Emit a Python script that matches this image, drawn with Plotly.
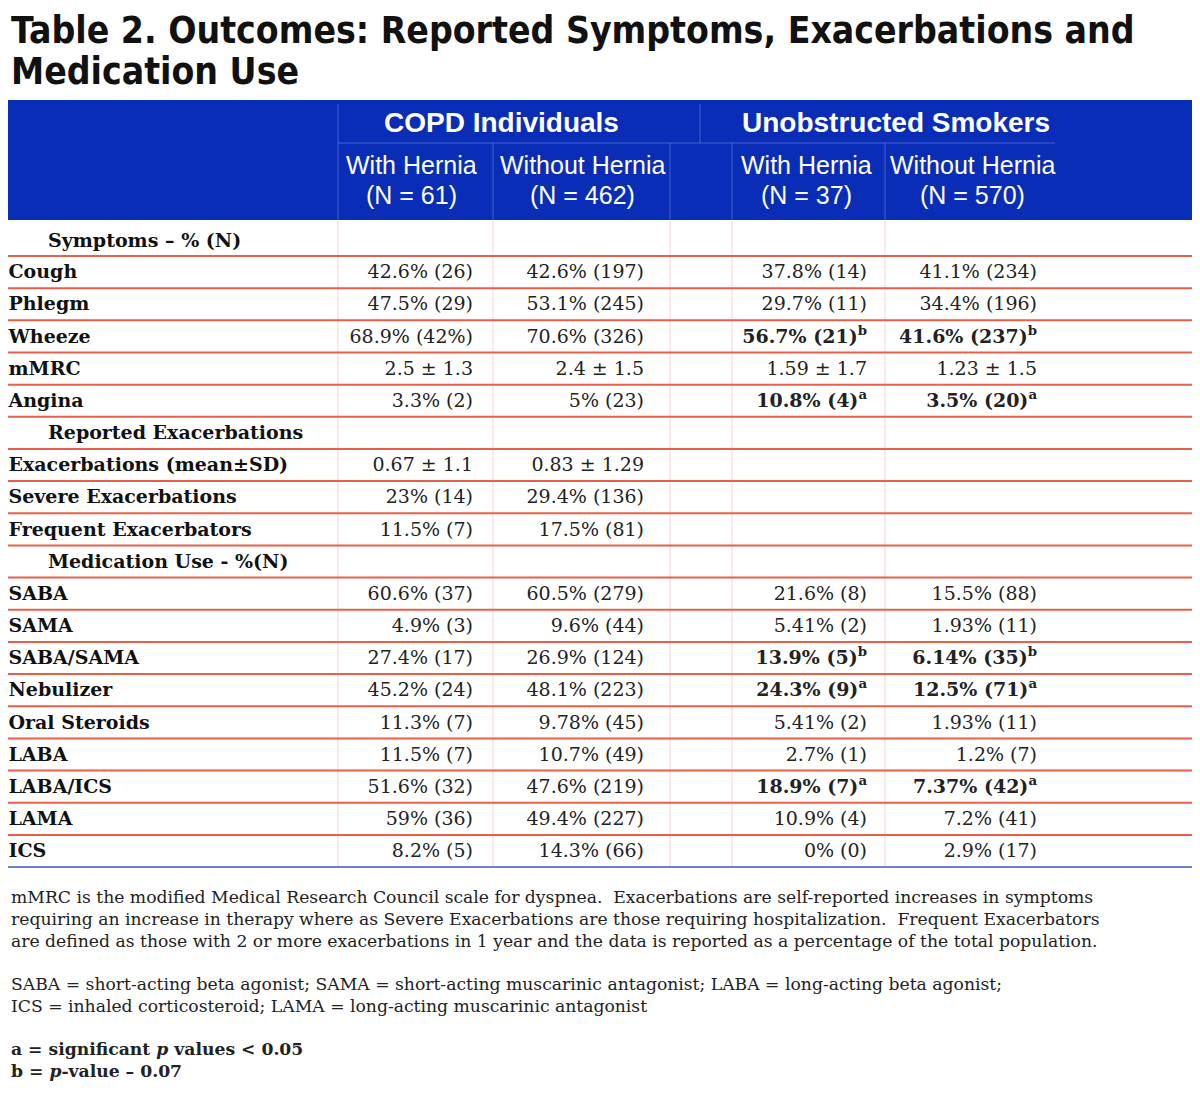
import plotly.graph_objects as go

# ---------------- data ----------------
title_lines = ["Table 2. Outcomes: Reported Symptoms, Exacerbations and", "Medication Use"]
group_headers = ["COPD Individuals", "Unobstructed Smokers"]
sub_names = ["With Hernia", "Without Hernia", "With Hernia", "Without Hernia"]
sub_counts = ["(N = 61)", "(N = 462)", "(N = 37)", "(N = 570)"]

row_labels = ["Symptoms – % (N)", "Cough", "Phlegm", "Wheeze", "mMRC", "Angina",
              "Reported Exacerbations", "Exacerbations (mean±SD)", "Severe Exacerbations",
              "Frequent Exacerbators", "Medication Use - %(N)", "SABA", "SAMA", "SABA/SAMA",
              "Nebulizer", "Oral Steroids", "LABA", "LABA/ICS", "LAMA", "ICS"]
section_rows = ["Symptoms – % (N)", "Reported Exacerbations", "Medication Use - %(N)"]

copd_with = ["", "42.6% (26)", "47.5% (29)", "68.9% (42%)", "2.5 ± 1.3", "3.3% (2)",
             "", "0.67 ± 1.1", "23% (14)", "11.5% (7)",
             "", "60.6% (37)", "4.9% (3)", "27.4% (17)", "45.2% (24)", "11.3% (7)",
             "11.5% (7)", "51.6% (32)", "59% (36)", "8.2% (5)"]
copd_without = ["", "42.6% (197)", "53.1% (245)", "70.6% (326)", "2.4 ± 1.5", "5% (23)",
                "", "0.83 ± 1.29", "29.4% (136)", "17.5% (81)",
                "", "60.5% (279)", "9.6% (44)", "26.9% (124)", "48.1% (223)", "9.78% (45)",
                "10.7% (49)", "47.6% (219)", "49.4% (227)", "14.3% (66)"]
unob_with = ["", "37.8% (14)", "29.7% (11)", "56.7% (21)", "1.59 ± 1.7", "10.8% (4)",
             "", "", "", "",
             "", "21.6% (8)", "5.41% (2)", "13.9% (5)", "24.3% (9)", "5.41% (2)",
             "2.7% (1)", "18.9% (7)", "10.9% (4)", "0% (0)"]
unob_without = ["", "41.1% (234)", "34.4% (196)", "41.6% (237)", "1.23 ± 1.5", "3.5% (20)",
                "", "", "", "",
                "", "15.5% (88)", "1.93% (11)", "6.14% (35)", "12.5% (71)", "1.93% (11)",
                "1.2% (7)", "7.37% (42)", "7.2% (41)", "2.9% (17)"]
# significance markers for unobstructed smokers (a = p<0.05, b = p-value 0.07)
unob_sig = ["", "", "", "b", "", "a",
            "", "", "", "",
            "", "", "", "b", "a", "",
            "", "a", "", ""]

notes_1 = ["mMRC is the modified Medical Research Council scale for dyspnea.  Exacerbations are self-reported increases in symptoms",
           "requiring an increase in therapy where as Severe Exacerbations are those requiring hospitalization.  Frequent Exacerbators",
           "are defined as those with 2 or more exacerbations in 1 year and the data is reported as a percentage of the total population."]
notes_2 = ["SABA = short-acting beta agonist; SAMA = short-acting muscarinic antagonist; LABA = long-acting beta agonist;",
           "ICS = inhaled corticosteroid; LAMA = long-acting muscarinic antagonist"]
notes_3 = ["<b>a = significant <i>p</i> values &lt; 0.05</b>",
           "<b>b = <i>p</i>-value – 0.07</b>"]

# ---------------- layout constants ----------------
W, H = 1200, 1099
PAGE_MARGIN = 8  # browser body margin around the plot div
BLUE = "#0a2db8"
RED = "#e8604a"
PINK = "#f6d4d2"
HDR_TOP, HDR_BOT = 100, 220
GROUP_LINE_Y = 143
FIRST_LINE = 256
ROW_H = 32.16
TEXT_DY = 1.5
V_LINES = [338, 493, 670, 732, 885]
VAL_RIGHT = [473, 644, 867, 1037]
SUB_CENTERS = [411, 582, 806, 972]
GROUP_CENTERS = [501, 896]
SERIF = "DejaVu Serif"
SANS = "Liberation Sans"
TITLE_FONT = "Liberation Sans Narrow, DejaVu Sans Condensed, Liberation Sans"
LEFT_X = PAGE_MARGIN + 0.5

n_rows = len(row_labels)


def row_center(i):
    if i == 0:
        return (HDR_BOT + FIRST_LINE) / 2 + 4
    return FIRST_LINE + ROW_H * (i - 1) + ROW_H / 2 + TEXT_DY


def line_below(i):
    return FIRST_LINE + ROW_H * i


table_bottom = line_below(n_rows - 1)

fig = go.Figure()
shapes = []

# header background
shapes.append(dict(type="rect", xref="x", yref="y", x0=0, x1=W, y0=HDR_TOP, y1=HDR_BOT,
                   fillcolor=BLUE, line=dict(width=0), layer="below"))
# header separators
hdr_line = dict(color="rgba(150,170,255,0.40)", width=1)
shapes.append(dict(type="line", x0=V_LINES[0], x1=1055, y0=GROUP_LINE_Y, y1=GROUP_LINE_Y, line=hdr_line))
shapes.append(dict(type="line", x0=V_LINES[0], x1=V_LINES[0], y0=HDR_TOP + 4, y1=HDR_BOT, line=hdr_line))
shapes.append(dict(type="line", x0=700, x1=700, y0=HDR_TOP + 4, y1=GROUP_LINE_Y, line=hdr_line))
for xv in V_LINES[1:]:
    shapes.append(dict(type="line", x0=xv, x1=xv, y0=GROUP_LINE_Y, y1=HDR_BOT, line=hdr_line))

# body vertical lines
for xv in V_LINES:
    shapes.append(dict(type="line", x0=xv, x1=xv, y0=HDR_BOT, y1=table_bottom,
                       line=dict(color=PINK, width=1), layer="below"))
# body horizontal lines
for i in range(n_rows - 1):
    yv = line_below(i)
    shapes.append(dict(type="line", x0=0, x1=W, y0=yv, y1=yv, line=dict(color=RED, width=2)))
shapes.append(dict(type="line", x0=0, x1=W, y0=table_bottom, y1=table_bottom,
                   line=dict(color="#6d80d6", width=2)))

ys = [row_center(i) for i in range(n_rows)]

# row labels
lab_x, lab_y, lab_t = [], [], []
sec_x, sec_y, sec_t = [], [], []
for i, lab in enumerate(row_labels):
    if lab in section_rows:
        sec_x.append(48); sec_y.append(ys[i]); sec_t.append("<b>" + lab + "</b>")
    else:
        lab_x.append(LEFT_X); lab_y.append(ys[i]); lab_t.append("<b>" + lab + "</b>")
fig.add_trace(go.Scatter(x=lab_x, y=lab_y, text=lab_t, mode="text", textposition="middle right",
                         textfont=dict(family=SERIF, size=19, color="#111"), hoverinfo="skip"))
fig.add_trace(go.Scatter(x=sec_x, y=sec_y, text=sec_t, mode="text", textposition="middle right",
                         textfont=dict(family=SERIF, size=19, color="#111"), hoverinfo="skip"))

# values
columns = [copd_with, copd_without, unob_with, unob_without]
for c, col in enumerate(columns):
    xs, yy, tt = [], [], []
    for i, v in enumerate(col):
        if not v:
            continue
        if c >= 2 and unob_sig[i]:
            txt = "<b>" + v + "<sup>" + unob_sig[i] + "</sup></b>"
        else:
            txt = v
        xs.append(VAL_RIGHT[c]); yy.append(ys[i]); tt.append(txt)
    fig.add_trace(go.Scatter(x=xs, y=yy, text=tt, mode="text", textposition="middle left",
                             textfont=dict(family=SERIF, size=19, color="#222"), hoverinfo="skip"))

annotations = []
# title
for ty, tl in zip([30, 71], title_lines):
    annotations.append(dict(x=LEFT_X, y=ty, xref="x", yref="y", text="<b>" + tl + "</b>",
                            showarrow=False, xanchor="left", yanchor="middle", align="left",
                            font=dict(family=TITLE_FONT, size=37, color="#111")))
# group headers
for gx, g in zip(GROUP_CENTERS, group_headers):
    annotations.append(dict(x=gx, y=(HDR_TOP + GROUP_LINE_Y) / 2 + 1, xref="x", yref="y", text="<b>" + g + "</b>",
                            showarrow=False, xanchor="center", yanchor="middle",
                            font=dict(family=SANS, size=28, color="white")))
for sx, s1, s2 in zip(SUB_CENTERS, sub_names, sub_counts):
    for sy, s in ((165, s1), (195, s2)):
        annotations.append(dict(x=sx, y=sy, xref="x", yref="y", text=s,
                                showarrow=False, xanchor="center", yanchor="middle",
                                font=dict(family=SANS, size=25, color="white")))
# notes
note_y = 897
for block in (notes_1, notes_2, notes_3):
    for ln in block:
        annotations.append(dict(x=LEFT_X, y=note_y, xref="x", yref="y", text=ln, showarrow=False,
                                xanchor="left", yanchor="middle",
                                font=dict(family=SERIF, size=17.2, color="#222")))
        note_y += 22
    note_y += 21

fig.update_layout(
    width=W - 2 * PAGE_MARGIN, height=H - PAGE_MARGIN,
    margin=dict(l=0, r=0, t=0, b=0, pad=0),
    paper_bgcolor="white", plot_bgcolor="white", showlegend=False,
    xaxis=dict(range=[PAGE_MARGIN, W - PAGE_MARGIN], visible=False, fixedrange=True),
    yaxis=dict(range=[H, PAGE_MARGIN], visible=False, fixedrange=True),
    shapes=shapes, annotations=annotations,
)

fig.write_html("out.html")
